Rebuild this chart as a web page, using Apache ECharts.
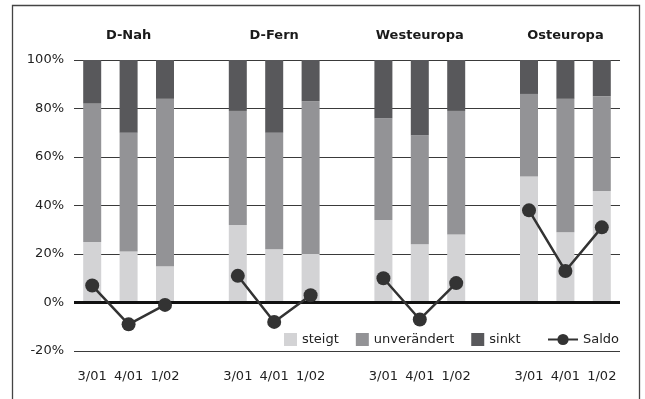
<!DOCTYPE html>
<html><head><meta charset="utf-8">
<script src="https://cdn.jsdelivr.net/npm/echarts@6/dist/echarts.min.js"></script>
<style>html,body{margin:0;padding:0;background:#fff}#c{width:645px;height:399px}</style>
</head><body><div id="c"></div>
<script>
const categories = ['D-Nah 3/01','D-Nah 4/01','D-Nah 1/02','gap1','D-Fern 3/01','D-Fern 4/01','D-Fern 1/02','gap2','West 3/01','West 4/01','West 1/02','gap3','Ost 3/01','Ost 4/01','Ost 1/02'];
const tickLabels = ['3/01','4/01','1/02','','3/01','4/01','1/02','','3/01','4/01','1/02','','3/01','4/01','1/02'];
const groupTitles = ['','D-Nah','','','','D-Fern','','','','Westeuropa','','','','Osteuropa',''];
const steigt = [25,21,15,null,32,22,20,null,34,24,28,null,52,29,46];
const unveraendert = [57,49,69,null,47,48,63,null,42,45,51,null,34,55,39];
const sinkt = [18,30,16,null,21,30,17,null,24,31,21,null,14,16,15];
const saldo = [7,-9,-1,null,11,-8,3,null,10,-7,8,null,38,13,31];
const yTicks = {min:-20, max:100, interval:20};

const FONT = 'DejaVu Sans';
const TXT = '#222';
const chart = echarts.init(document.getElementById('c'), null, {renderer:'canvas'});
chart.setOption({
  animation:false,
  backgroundColor:'#fff',
  textStyle:{fontFamily:FONT},
  graphic:[{type:'rect', shape:{x:12.5,y:5.5,width:627,height:420}, style:{fill:'none', stroke:'#444', lineWidth:1.3}, silent:true}],
  grid:{left:74, right:25, top:60, bottom:48, containLabel:false},
  legend:[
    {data:['steigt','unverändert','sinkt'], left:279, top:328, icon:'rect', itemWidth:13, itemHeight:13, itemGap:17,
     textStyle:{fontFamily:FONT, fontSize:13, color:TXT}},
    {data:['Saldo'], left:542, top:328, itemWidth:30, itemHeight:14,
     textStyle:{fontFamily:FONT, fontSize:13, color:TXT}}
  ],
  xAxis:[
    {type:'category', data:categories, position:'bottom',
     axisLine:{show:false, onZero:false}, axisTick:{show:false}, splitLine:{show:false},
     axisLabel:{interval:0, margin:19, fontFamily:FONT, fontSize:13, color:TXT, formatter:(v,i)=>tickLabels[i]}},
    {type:'category', data:groupTitles, position:'top',
     axisLine:{show:false, onZero:false}, axisTick:{show:false}, splitLine:{show:false},
     axisLabel:{interval:0, margin:18, fontFamily:FONT, fontSize:13, fontWeight:'bold', color:'#1a1a1a'}}
  ],
  yAxis:{type:'value', min:yTicks.min, max:yTicks.max, interval:yTicks.interval,
    axisLine:{show:false}, axisTick:{show:false},
    axisLabel:{formatter:'{value}%', margin:10, fontFamily:FONT, fontSize:13, color:TXT},
    splitLine:{lineStyle:{color:'#3a3a3a', width:1.2}}},
  series:[
    {name:'steigt', type:'bar', stack:'s', data:steigt, barWidth:18, itemStyle:{color:'#d3d3d5'},
     markLine:{silent:true, symbol:'none', label:{show:false}, lineStyle:{color:'#111', width:2.8, type:'solid'}, data:[{yAxis:0}], z:5}},
    {name:'unverändert', type:'bar', stack:'s', data:unveraendert, barWidth:18, itemStyle:{color:'#939396'}},
    {name:'sinkt', type:'bar', stack:'s', data:sinkt, barWidth:18, itemStyle:{color:'#58585b'}},
    {name:'Saldo', type:'line', data:saldo, symbol:'circle', symbolSize:14, z:10,
     itemStyle:{color:'#333'}, lineStyle:{color:'#333', width:2.5}}
  ]
});
</script></body></html>
